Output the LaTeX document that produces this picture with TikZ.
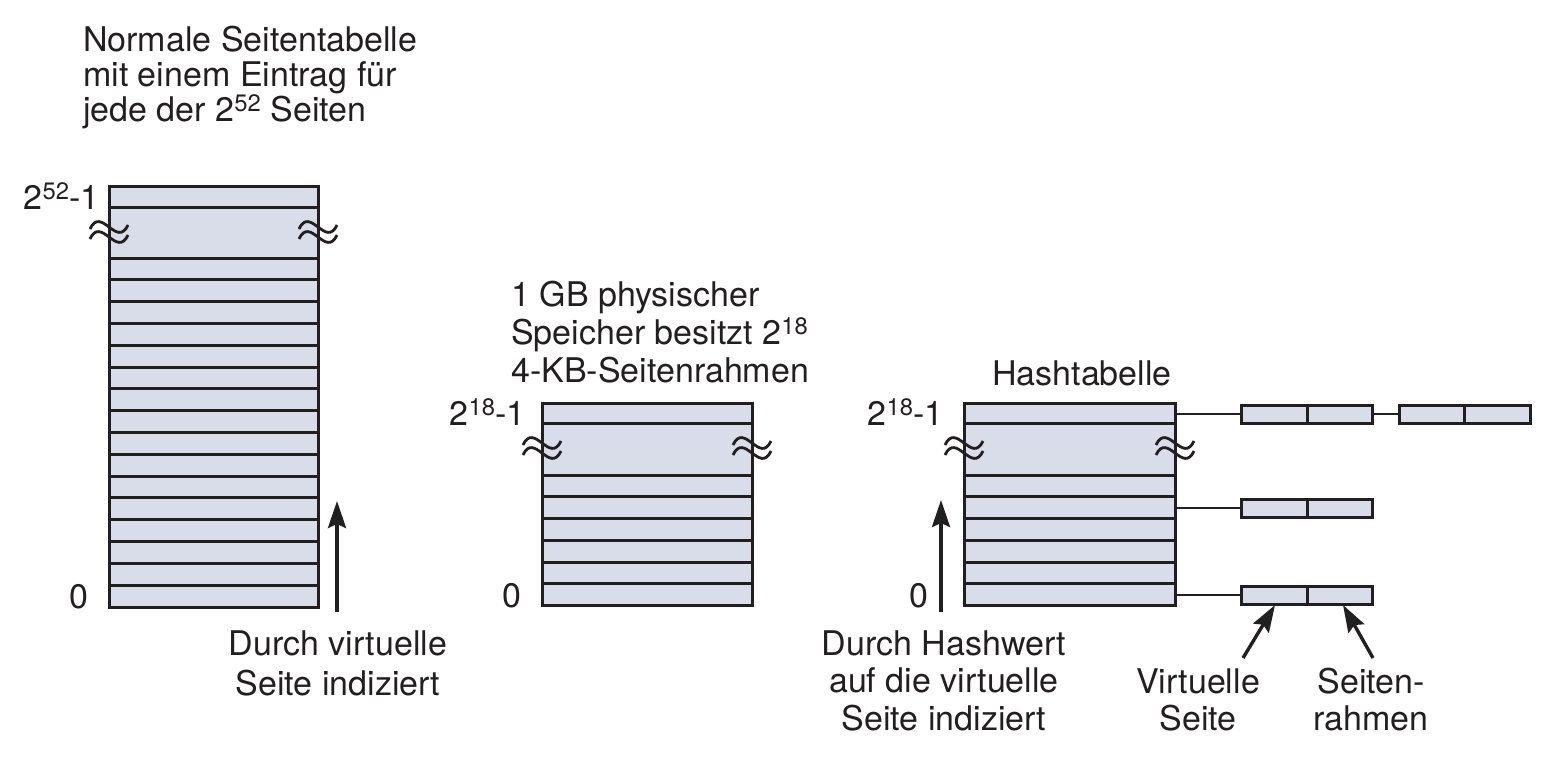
\documentclass[tikz,border=0pt]{standalone}
\usepackage{fontspec}
\setmainfont{TeX Gyre Heros}
\usetikzlibrary{arrows.meta}
\definecolor{pagefill}{RGB}{216,221,233}
\definecolor{ink}{RGB}{35,31,32}
\tikzset{
  tbl/.style={draw=ink,fill=pagefill,line width=3pt},
  rowline/.style={draw=ink,line width=3pt},
  wavemark/.style={draw=ink,line width=2.8pt},
  ptr/.style={draw=ink,line width=2.4pt},
  idxarrow/.style={draw=ink,line width=3.4pt,-{Stealth[length=27pt,width=18pt,inset=4pt]}}
}
\begin{document}
\begin{tikzpicture}[x=1pt,y=-1pt]
  \useasboundingbox (0,0) rectangle (1549,760);

  % normal page table
  \path[tbl] (109,186) rectangle (318,607);
  \draw[rowline] (109,207) -- (318,207);
  \foreach \k in {0,...,15}
    \draw[rowline] (109,{258+21.8*\k}) -- (318,{258+21.8*\k});

  % physical memory
  \path[tbl] (542,403) rectangle (752,605.5);
  \draw[rowline] (542,423) -- (752,423);
  \foreach \k in {0,...,5}
    \draw[rowline] (542,{475+21.75*\k}) -- (752,{475+21.75*\k});

  % hash table
  \path[tbl] (964,403) rectangle (1175,605.5);
  \draw[rowline] (964,423) -- (1175,423);
  \foreach \k in {0,...,5}
    \draw[rowline] (964,{475+21.75*\k}) -- (1175,{475+21.75*\k});

  % breaks
  \foreach \x/\y in {109/232,318/232,542/448,752/448,964/448,1175/448}
    \foreach \d in {-5,5}
      \draw[wavemark] (\x-19,\y+\d+2) .. controls (\x-8,\y+\d-22) and (\x+8,\y+\d+22) .. (\x+19,\y+\d-2);

  % chain entries
  \begin{scope}[every node/.style={draw=ink,fill=pagefill,line width=3pt,
      minimum width=65.5pt,minimum height=18pt,inner sep=0pt}]
    \node (v1) at (1274.5,414) {};
    \node (f1) at (1340,414)   {};
    \node (v2) at (1432,414)   {};
    \node (f2) at (1497.5,414) {};
    \node (v3) at (1274.5,508) {};
    \node (f3) at (1340,508)   {};
    \node (v4) at (1274.5,595) {};
    \node (f4) at (1340,595)   {};
  \end{scope}

  \coordinate (h1) at (1175,414);
  \coordinate (h2) at (1175,508);
  \coordinate (h3) at (1175,595);
  \path[ptr] (h1) edge (v1.west);
  \path[ptr] (f1.east) edge (v2.west);
  \path[ptr] (h2) edge (v3.west);
  \path[ptr] (h3) edge (v4.west);

  % labels
  \begin{scope}[every node/.style={font=\fontsize{34}{38}\selectfont,text=ink,inner sep=0pt}]
    \node[anchor=base west,align=left,font=\fontsize{34}{35}\selectfont] (normtxt) at (83,121)
      {Normale Seitentabelle\\mit einem Eintrag für\\jede der 2\textsuperscript{52} Seiten};
    \node[anchor=base east] (nhi) at (100,209) {2\textsuperscript{52}-1};
    \node[anchor=base east] (nlo) at (89,608) {0};
    \node[anchor=base west,align=left] (phystxt) at (511,382)
      {1 GB physischer\\Speicher besitzt 2\textsuperscript{18}\\4-KB-Seitenrahmen};
    \node[anchor=base east] (phi) at (526,425) {2\textsuperscript{18}-1};
    \node[anchor=base east] (plo) at (522,607) {0};
    \node[anchor=base west] (hashtxt) at (992,385) {Hashtabelle};
    \node[anchor=base east] (hhi) at (944,425) {2\textsuperscript{18}-1};
    \node[anchor=base east] (hlo) at (929,607) {0};
    \node[anchor=base,align=center,font=\fontsize{34}{40}\selectfont] (vidx) at (338,695)
      {Durch virtuelle\\Seite indiziert};
    \node[anchor=base,align=center,font=\fontsize{34}{37.5}\selectfont] (hidx) at (944,730)
      {Durch Hashwert\\auf die virtuelle\\Seite indiziert};
    \node[anchor=base,align=center,font=\fontsize{34}{37}\selectfont] (vtxt) at (1198,730) {Virtuelle\\Seite};
    \node[anchor=base,align=center,font=\fontsize{34}{37}\selectfont] (ftxt) at (1371,730) {Seiten-\\rahmen};
  \end{scope}

  % arrows
  \coordinate (va) at (337,612);
  \coordinate (vb) at (337,501);
  \coordinate (ha) at (941,612);
  \coordinate (hb) at (941,500);
  \coordinate (pa) at (1243,658);
  \coordinate (pb) at (1275,605);
  \coordinate (qa) at (1373,658);
  \coordinate (qb) at (1343,605);
  \draw[idxarrow] (va) -- (vb);
  \draw[idxarrow] (ha) -- (hb);
  \draw[idxarrow] (pa) -- (pb);
  \draw[idxarrow] (qa) -- (qb);
\end{tikzpicture}
\end{document}
